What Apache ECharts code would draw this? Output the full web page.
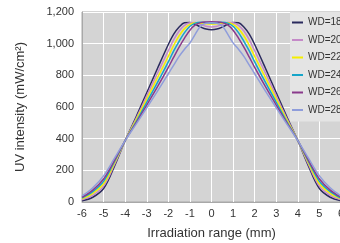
<!DOCTYPE html>
<html><head><meta charset="utf-8">
<script src="https://cdn.jsdelivr.net/npm/echarts@6/dist/echarts.min.js"></script>
<style>html,body{margin:0;padding:0;background:#fff}#c{width:340px;height:243px}</style>
</head><body><div id="c"></div>
<script>
// half-profile x positions (mirrored for the right side)
const halfX = [-6,-5.5,-5,-4.5,-4,-3.5,-3,-2.5,-2,-1.75,-1.5,-1.25,-1,-0.75,-0.5,-0.25,0];
const seriesNames = ['WD=18','WD=20','WD=22','WD=24','WD=26','WD=28'];
const colors = ['#2b2b5e','#c58ac8','#f5ef00','#16a5c9','#8a3a8c','#8f9ddb'];
const wd18 = [8,30,85,225,388,535,690,845,995,1060,1105,1132,1134,1122,1105,1092,1088];
const wd20 = [14,42,100,235,388,525,670,815,955,1025,1080,1115,1132,1133,1122,1110,1105];
const wd22 = [20,55,115,245,388,515,650,785,920,990,1050,1095,1122,1130,1130,1126,1124];
const wd24 = [25,65,130,255,388,505,630,755,885,955,1015,1070,1110,1130,1135,1133,1130];
const wd26 = [30,75,145,262,388,498,612,728,850,915,978,1035,1085,1118,1133,1137,1138];
const wd28 = [38,90,165,275,388,490,595,700,810,865,920,965,1005,1060,1112,1129,1132];
const allData = [wd18,wd20,wd22,wd24,wd26,wd28];
const xTicks = [-6,-5,-4,-3,-2,-1,0,1,2,3,4,5,6];
const yTicks = [0,200,400,600,800,1000,1200];

function full(vals){
  const pts = halfX.map((x,i)=>[x, vals[i]]);
  for(let i=halfX.length-2;i>=0;i--) pts.push([-halfX[i], vals[i]]);
  return pts;
}
const chart = echarts.init(document.getElementById('c'), null, {renderer:'canvas'});
const font = "'Liberation Sans', Arial, sans-serif";
chart.setOption({
  animation:false,
  grid:{left:82, top:12, width:259, height:190, show:true, containLabel:false, outerBoundsMode:'none',
    backgroundColor:'#d4d4d4', borderColor:'#a8a8a8', borderWidth:1},
  xAxis:{type:'value', min:xTicks[0], max:xTicks[xTicks.length-1], interval:1,
    name:'Irradiation range (mm)', nameLocation:'middle', nameGap:25,
    nameTextStyle:{fontFamily:font, fontSize:13, color:'#333'},
    axisLine:{show:true, onZero:false, lineStyle:{color:'#a8a8a8'}}, axisTick:{show:false},
    axisLabel:{fontFamily:font, fontSize:11, color:'#333', margin:6, hideOverlap:false},
    splitLine:{show:true, lineStyle:{color:'#ffffff', width:1}}},
  yAxis:{type:'value', min:yTicks[0], max:yTicks[yTicks.length-1], interval:200,
    name:'UV intensity (mW/cm²)', nameLocation:'middle', nameGap:55, nameRotate:90,
    nameTextStyle:{fontFamily:font, fontSize:13, color:'#333'},
    axisLine:{show:true, onZero:false, lineStyle:{color:'#a8a8a8'}}, axisTick:{show:false},
    axisLabel:{fontFamily:font, fontSize:11, color:'#333', margin:8,
      formatter:v=>v.toLocaleString('en-US')},
    splitLine:{show:true, lineStyle:{color:'#ffffff', width:1}}},
  legend:{orient:'vertical', left:290, top:12, padding:[5,10,6,2],
    backgroundColor:'#e4e4e4', icon:'rect', itemWidth:11, itemHeight:2, itemGap:6.5,
    textStyle:{fontFamily:font, fontSize:10, color:'#333', lineHeight:11},
    data:seriesNames},
  series: seriesNames.map((n,i)=>({name:n, type:'line', data:full(allData[i]), smooth:0.35, symbol:'none',
    color:colors[i], lineStyle:{color:colors[i], width:1.5}}))
});
</script></body></html>
